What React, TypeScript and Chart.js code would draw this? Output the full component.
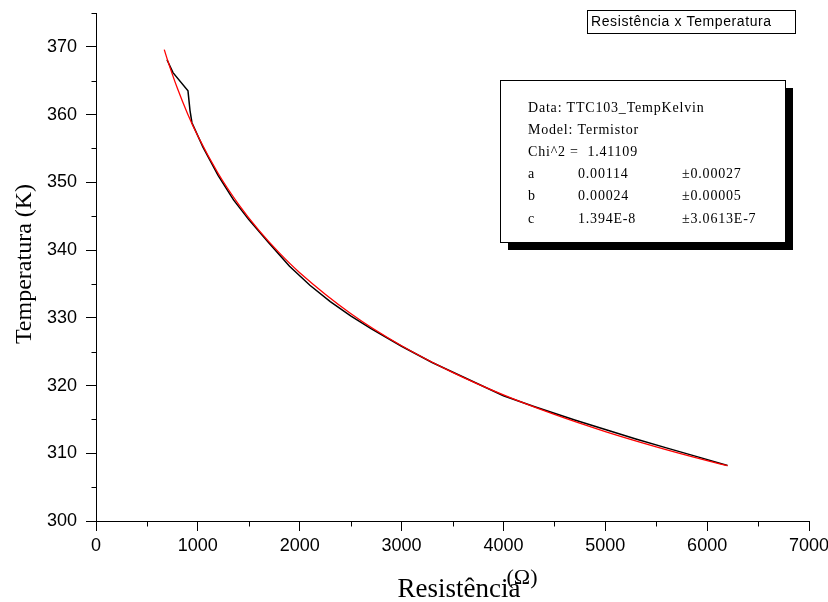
import React, { useEffect, useRef } from 'react';
import { Chart, registerables } from 'chart.js';

Chart.register(...registerables);

// Fitted curve (red)
const fitResistance = [670, 700, 800, 900, 1000, 1200, 1400, 1600, 1800, 2000, 2500, 3000, 3500, 4000, 4500, 5000, 5500, 6000, 6200];
const fitTemperature = [369.6, 368.16, 363.84, 360.1, 356.83, 351.3, 346.75, 342.9, 339.58, 336.66, 330.64, 325.87, 321.95, 318.62, 315.74, 313.21, 310.96, 308.92, 308.16];

// Measured data (black)
const dataResistance = [697, 756, 903, 923, 942, 1050, 1200, 1350, 1500, 1700, 1900, 2100, 2300, 2500, 2700, 3000, 3300, 3600, 4000, 4300, 4700, 5000, 5300, 5600, 5900, 6200];
const dataTemperature = [368.1, 366.2, 363.5, 360.6, 358.8, 355.2, 351.0, 347.4, 344.5, 341.0, 337.6, 334.8, 332.4, 330.3, 328.4, 325.8, 323.4, 321.3, 318.5, 316.9, 314.9, 313.5, 312.1, 310.8, 309.5, 308.2];

// Axis ticks
const xMajorTicks = [0, 1000, 2000, 3000, 4000, 5000, 6000, 7000];
const xMinorTicks = [500, 1500, 2500, 3500, 4500, 5500, 6500];
const yMajorTicks = [300, 310, 320, 330, 340, 350, 360, 370];
const yMinorTicks = [305, 315, 325, 335, 345, 355, 365, 375];

const xTitle = 'Resistência';
const xTitleUnit = '(Ω)';
const yTitle = 'Temperatura (K)';
const legendLabel = 'Resistência x Temperatura';
const statsLines = ['Data: TTC103_TempKelvin', 'Model: Termistor', 'Chi^2 =  1.41109'];
const paramNames = ['a', 'b', 'c'];
const paramValues = ['0.00114', '0.00024', '1.394E-8'];
const paramErrors = ['±0.00027', '±0.00005', '±3.0613E-7'];

const overlayPlugin = {
  id: 'overlay',
  afterDraw(chart: any) {
    const ctx = chart.ctx as CanvasRenderingContext2D;
    const xs = chart.scales.x;
    const ys = chart.scales.y;
    const area = chart.chartArea;
    ctx.save();
    // minor ticks
    ctx.strokeStyle = '#000';
    ctx.lineWidth = 1;
    ctx.beginPath();
    xMinorTicks.forEach((v) => {
      const px = Math.round(xs.getPixelForValue(v)) + 0.5;
      ctx.moveTo(px, Math.round(area.bottom) + 0.5);
      ctx.lineTo(px, Math.round(area.bottom) + 5.5);
    });
    yMinorTicks.forEach((v) => {
      const py = Math.round(ys.getPixelForValue(v)) + 0.5;
      ctx.moveTo(Math.round(area.left) + 0.5, py);
      ctx.lineTo(Math.round(area.left) - 4.5, py);
    });
    ctx.stroke();

    // axis titles
    ctx.fillStyle = '#000';
    ctx.font = '24px "Liberation Serif"';
    ctx.textAlign = 'center';
    ctx.textBaseline = 'middle';
    ctx.save();
    ctx.translate(25, (area.top + area.bottom) / 2 - 3);
    ctx.rotate(-Math.PI / 2);
    ctx.fillText(yTitle, 0, 0);
    ctx.restore();

    const cx = 459;
    ctx.font = '27px "Liberation Serif"';
    ctx.textBaseline = 'alphabetic';
    ctx.fillText(xTitle, cx, 597);
    const w = ctx.measureText(xTitle).width;
    ctx.font = '22px "Liberation Serif"';
    ctx.textAlign = 'left';
    ctx.fillText(xTitleUnit, cx + w / 2 - 14, 584);

    // legend box
    ctx.fillStyle = '#fff';
    ctx.fillRect(587.5, 10.5, 208, 23);
    ctx.strokeStyle = '#000';
    ctx.strokeRect(587.5, 10.5, 208, 23);
    ctx.fillStyle = '#000';
    ctx.font = '14px "Liberation Sans"';
    (ctx as any).letterSpacing = '0.6px';
    ctx.textAlign = 'left';
    ctx.textBaseline = 'middle';
    ctx.fillText(legendLabel, 591, 22.5);

    // stats box with shadow
    ctx.fillStyle = '#000';
    ctx.fillRect(508, 88, 285, 162);
    ctx.fillStyle = '#fff';
    ctx.fillRect(500.5, 80.5, 285, 162);
    ctx.strokeRect(500.5, 80.5, 285, 162);
    ctx.fillStyle = '#000';
    ctx.font = '14px "Liberation Serif"';
    (ctx as any).letterSpacing = '0.8px';
    ctx.textBaseline = 'alphabetic';
    const base = 112;
    const step = 22.1;
    statsLines.forEach((t, i) => ctx.fillText(t, 528, base + step * i));
    paramNames.forEach((n, i) => {
      const y = base + step * (i + 3);
      ctx.fillText(n, 528, y);
      ctx.fillText(paramValues[i], 578, y);
      ctx.fillText(paramErrors[i], 682, y);
    });
    ctx.restore();
  },
};

export default function App() {
  const ref = useRef<HTMLCanvasElement>(null);
  useEffect(() => {
    document.body.style.margin = '0';
    const canvas = ref.current!;
    const tickColor = (c: any) => (c.tick && c.tick.major ? '#000' : 'rgba(0,0,0,0)');
    const chart = new Chart(canvas, {
      type: 'scatter',
      data: {
        datasets: [
          {
            label: 'Fit',
            data: fitResistance.map((r, i) => ({ x: r, y: fitTemperature[i] })),
            showLine: true,
            borderColor: '#ff0000',
            borderWidth: 1.3,
            pointRadius: 0,
            cubicInterpolationMode: 'monotone',
          },
          {
            label: legendLabel,
            data: dataResistance.map((r, i) => ({ x: r, y: dataTemperature[i] })),
            showLine: true,
            borderColor: '#000000',
            borderWidth: 1.5,
            pointRadius: 0,
            tension: 0,
          },
        ],
      },
      options: {
        animation: false,
        responsive: false,
        layout: { padding: { top: 13, right: 19, left: 0, bottom: 0 } },
        plugins: { legend: { display: false }, tooltip: { enabled: false } },
        scales: {
          x: {
            type: 'linear',
            min: 0,
            max: 7000,
            afterBuildTicks: (s: any) => {
              s.ticks = [...xMajorTicks.map((v) => ({ value: v, major: true })), ...xMinorTicks.map((v) => ({ value: v, major: false }))].sort((a, b) => a.value - b.value);
            },
            afterFit: (s: any) => {
              s.height = 81;
              s.paddingLeft = 0;
              s.paddingRight = 0;
            },
            ticks: {
              autoSkip: false,
              maxRotation: 0,
              color: '#000',
              padding: 4,
              font: { family: 'Liberation Sans', size: 18 },
              callback: (v: any) => (xMajorTicks.includes(Number(v)) ? String(v) : ''),
            },
            grid: { drawOnChartArea: false, drawTicks: true, tickLength: 10, color: tickColor },
            border: { display: true, color: '#000', width: 1 },
          },
          y: {
            type: 'linear',
            min: 300,
            max: 375,
            afterBuildTicks: (s: any) => {
              s.ticks = [...yMajorTicks.map((v) => ({ value: v, major: true })), ...yMinorTicks.map((v) => ({ value: v, major: false }))].sort((a, b) => a.value - b.value);
            },
            afterFit: (s: any) => {
              s.width = 96;
              s.paddingTop = 0;
              s.paddingBottom = 0;
            },
            ticks: {
              autoSkip: false,
              color: '#000',
              padding: 9,
              font: { family: 'Liberation Sans', size: 18 },
              callback: (v: any) => (yMajorTicks.includes(Number(v)) ? String(v) : ''),
            },
            grid: { drawOnChartArea: false, drawTicks: true, tickLength: 10, color: tickColor },
            border: { display: true, color: '#000', width: 1 },
          },
        },
      },
      plugins: [overlayPlugin],
    } as any);
    return () => chart.destroy();
  }, []);
  return (
    <div style={{ position: 'absolute', left: 0, top: 0, width: 828, height: 602, background: '#fff' }}>
      <canvas ref={ref} width={828} height={602} />
    </div>
  );
}
